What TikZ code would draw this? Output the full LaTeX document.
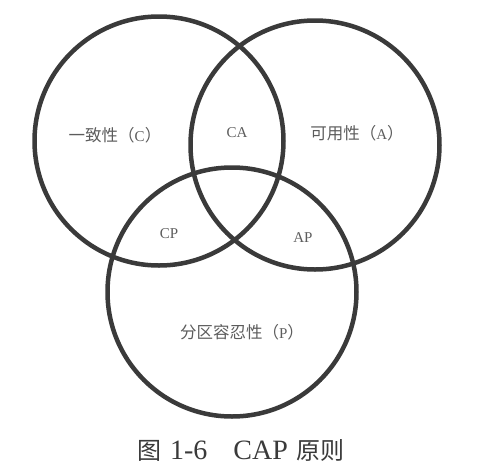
\documentclass[tikz,border=0pt]{standalone}
\usepackage{fontspec}
\setmainfont{Liberation Serif}
\newfontfamily\cjk{Noto Sans CJK SC}
\definecolor{ringgray}{HTML}{3A3A3A}
\definecolor{labelgray}{HTML}{5C5C5C}
\def\ringradius{124.5pt}
\def\ringwidth{4.5pt}
\newcommand{\zh}[1]{{\cjk\fontsize{16.5}{19}\selectfont #1}}
\newcommand{\zhcap}[1]{{\cjk\fontsize{24}{27}\selectfont #1}}

\begin{document}
\begin{tikzpicture}[x=1pt,y=-1pt,
  ring/.style={draw=ringgray,line width=\ringwidth},
  setlabel/.style={text=labelgray,inner sep=0pt,font=\fontsize{15}{17}\selectfont},
  caption/.style={text=ringgray,inner sep=0pt,font=\fontsize{28}{31}\selectfont}]
\useasboundingbox (0,0) rectangle (496,472);

% the three sets
\foreach \cx/\cy in {159/141, 315/145, 232/292} {
  \draw[ring] (\cx,\cy) circle (\ringradius);
}

% single sets
\node[setlabel] (consistency) at (115,135) {\zh{一致性（}C\zh{）}};
\node[setlabel] (availability) at (357,133) {\zh{可用性（}A\zh{）}};
\node[setlabel] (partition) at (242,332) {\zh{分区容忍性（}P\zh{）}};

% overlaps
\node[setlabel] (ca) at (237,133) {CA};
\node[setlabel] (cp) at (169,234) {CP};
\node[setlabel] (ap) at (303,238) {AP};

\node[caption] (title) at (241,450) {\zhcap{图}\hspace{9pt}1-6\hspace{26pt}CAP\hspace{9pt}\zhcap{原则}};
\end{tikzpicture}
\end{document}
